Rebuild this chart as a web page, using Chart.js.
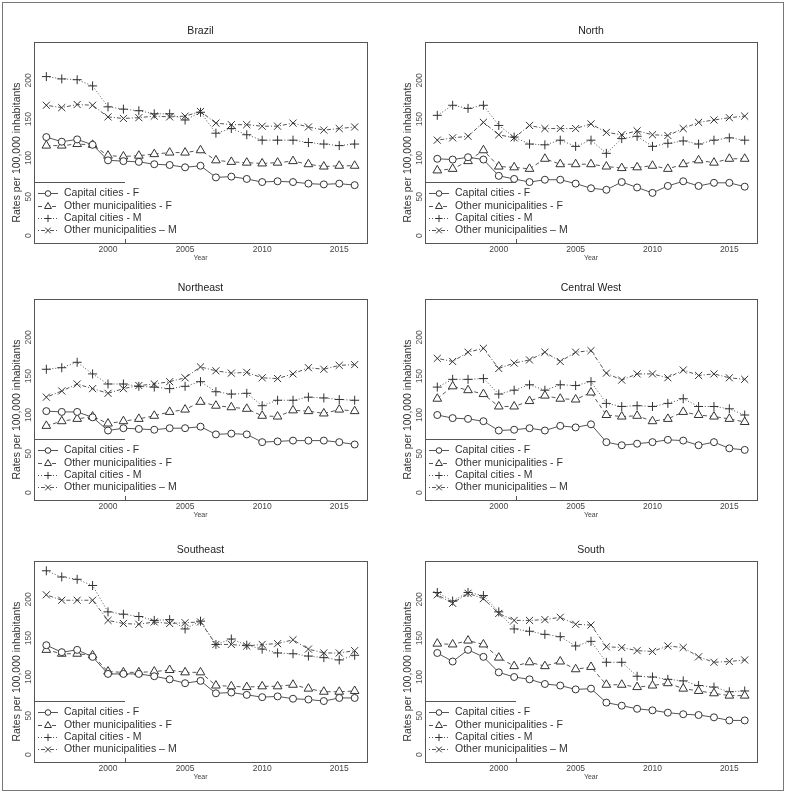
<!DOCTYPE html>
<html>
<head>
<meta charset="utf-8">
<script src="https://cdn.jsdelivr.net/npm/chart.js@4.4.1/dist/chart.umd.min.js"></script>
<style>
  body { margin: 0; background: #fff; width: 786px; height: 794px; position: relative; overflow: hidden; }
  #frame { position: absolute; left: 2px; top: 2px; width: 782px; height: 789px; border: 1px solid #777; box-sizing: border-box; }
  canvas { position: absolute; }
</style>
</head>
<body>
<div id="frame"></div>
<script>
// years on the x axis
const years = [1996, 1997, 1998, 1999, 2000, 2001, 2002, 2003, 2004, 2005, 2006,
  2007, 2008, 2009, 2010, 2011, 2012, 2013, 2014, 2015, 2016];
const xTicks = [2000, 2005, 2010, 2015];
const yTicks = [0, 50, 100, 150, 200];
const seriesNames = ["Capital cities - F", "Other municipalities - F", "Capital cities - M", "Other municipalities \u2013 M"];

// Brazil
const brazilCapF = [127, 121, 124, 117, 97, 96, 95, 92, 91, 88, 90, 75, 76, 73, 69, 70, 69, 67, 66, 67, 65];
const brazilOthF = [116, 116, 118, 117, 103, 102, 103, 105, 107, 107, 110, 97, 95, 94, 93, 94, 96, 92, 89, 90, 90];
const brazilCapM = [205, 202, 201, 193, 166, 163, 161, 157, 157, 149, 159, 132, 138, 130, 123, 123, 123, 120, 118, 116, 118];
const brazilOthM = [168, 165, 169, 168, 153, 151, 152, 154, 153, 154, 160, 145, 143, 143, 141, 141, 145, 140, 136, 138, 140];

// North
const northCapF = [99, 98, 101, 98, 77, 73, 69, 72, 72, 67, 61, 59, 69, 62, 55, 64, 70, 64, 68, 68, 63];
const northOthF = [84, 86, 96, 110, 89, 88, 86, 99, 92, 92, 92, 89, 87, 88, 90, 86, 92, 97, 94, 99, 99];
const northCapM = [155, 168, 164, 168, 142, 127, 118, 117, 123, 115, 123, 106, 125, 128, 115, 119, 122, 118, 123, 126, 123];
const northOthM = [123, 126, 128, 146, 130, 126, 142, 138, 138, 138, 144, 133, 130, 135, 130, 129, 138, 146, 149, 152, 154];

// Northeast
const northeastCapF = [105, 104, 104, 97, 80, 83, 82, 81, 83, 83, 85, 75, 76, 75, 65, 66, 67, 67, 67, 65, 62];
const northeastOthF = [86, 92, 95, 98, 89, 92, 95, 99, 104, 107, 117, 112, 110, 108, 99, 98, 106, 105, 102, 107, 105];
const northeastCapM = [159, 161, 168, 153, 140, 140, 137, 136, 134, 137, 143, 130, 127, 128, 112, 119, 119, 123, 122, 120, 119];
const northeastOthM = [123, 131, 140, 134, 128, 134, 138, 140, 143, 148, 162, 157, 154, 155, 148, 147, 153, 161, 159, 164, 165];

// Central West
const centralCapF = [100, 96, 95, 92, 80, 81, 83, 80, 86, 84, 88, 65, 61, 63, 65, 68, 67, 61, 65, 57, 55];
const centralOthF = [121, 137, 132, 127, 111, 111, 118, 125, 121, 120, 129, 100, 98, 99, 92, 95, 104, 100, 98, 95, 91];
const centralCapM = [136, 146, 146, 147, 127, 132, 139, 132, 139, 138, 143, 115, 111, 112, 111, 115, 121, 111, 111, 108, 100];
const centralOthM = [173, 169, 181, 186, 160, 167, 171, 181, 169, 181, 183, 154, 145, 153, 153, 148, 158, 151, 153, 148, 146];

// Southeast
const southeastCapF = [141, 132, 135, 126, 104, 104, 104, 101, 97, 92, 95, 79, 80, 77, 74, 75, 72, 71, 69, 73, 73];
const southeastOthF = [135, 130, 130, 128, 107, 106, 106, 107, 109, 106, 106, 89, 88, 87, 88, 88, 90, 85, 81, 81, 82];
const southeastCapM = [237, 229, 226, 218, 184, 181, 178, 173, 174, 162, 172, 142, 149, 141, 136, 131, 130, 127, 125, 122, 128];
const southeastOthM = [206, 199, 199, 199, 173, 169, 168, 171, 169, 170, 171, 142, 142, 140, 142, 143, 148, 136, 131, 131, 134];

// South
const southCapF = [131, 120, 135, 126, 106, 100, 97, 91, 89, 84, 85, 67, 63, 59, 57, 54, 52, 51, 48, 44, 44];
const southOthF = [143, 142, 147, 142, 125, 114, 119, 114, 120, 110, 113, 90, 90, 87, 89, 92, 85, 82, 79, 76, 76];
const southCapM = [209, 198, 209, 205, 184, 162, 159, 155, 152, 140, 146, 119, 119, 101, 100, 97, 95, 89, 87, 81, 82];
const southOthM = [206, 195, 208, 201, 182, 173, 173, 174, 177, 168, 167, 139, 138, 134, 133, 140, 138, 126, 119, 120, 122];

const regions = [
  { title: "Brazil", data: [brazilCapF, brazilOthF, brazilCapM, brazilOthM], col: 0, row: 0 },
  { title: "North", data: [northCapF, northOthF, northCapM, northOthM], col: 1, row: 0 },
  { title: "Northeast", data: [northeastCapF, northeastOthF, northeastCapM, northeastOthM], col: 0, row: 1 },
  { title: "Central West", data: [centralCapF, centralOthF, centralCapM, centralOthM], col: 1, row: 1 },
  { title: "Southeast", data: [southeastCapF, southeastOthF, southeastCapM, southeastOthM], col: 0, row: 2 },
  { title: "South", data: [southCapF, southOthF, southCapM, southOthM], col: 1, row: 2 }
];

// R type="b" look: marker, dash pattern, size
const styles = [
  { point: "circle", radius: 3.5, dash: [] },
  { point: "triangle", radius: 5, dash: [4, 3] },
  { point: "cross", radius: 4.5, dash: [1, 2] },
  { point: "crossRot", radius: 5, dash: [1, 2, 4, 2] }
];

const FONT = "'Liberation Sans', Arial, Helvetica, sans-serif";
const lineColor = "#555";
const markColor = "#333";

const canvasW = 393, canvasH = 263;
const colLeft = [0, 391];
const rowTop = [0, 257, 519];
const padRight = [26, 27];

const panelDecor = {
  id: "panelDecor",
  afterDraw(chart, args, opts) {
    const ctx = chart.ctx;
    const a = chart.chartArea;
    const xs = chart.scales.x;
    const ys = chart.scales.y;
    ctx.save();
    // box
    ctx.strokeStyle = "#555";
    ctx.lineWidth = 1;
    ctx.setLineDash([]);
    ctx.strokeRect(Math.round(a.left) + 0.5, Math.round(a.top) + 0.5, Math.round(a.right - a.left), Math.round(a.bottom - a.top));

    // title
    ctx.fillStyle = "#222";
    ctx.font = "10.5px " + FONT;
    ctx.textAlign = "center";
    ctx.textBaseline = "middle";
    ctx.fillText(opts.title, (a.left + a.right) / 2, a.top - 11);

    // x tick labels
    ctx.fillStyle = "#444";
    ctx.font = "8.5px " + FONT;
    xTicks.forEach(v => {
      ctx.fillText(String(v), xs.getPixelForValue(v), a.bottom + 6.5);
    });

    // x axis name
    ctx.font = "7px " + FONT;
    ctx.fillText("Year", (a.left + a.right) / 2, a.bottom + 15);

    // y tick labels, rotated like R
    ctx.fillStyle = "#555";
    ctx.font = "8.5px " + FONT;
    yTicks.forEach(v => {
      const py = ys.getPixelForValue(v);
      ctx.save();
      ctx.translate(a.left - 5, py);
      ctx.rotate(-Math.PI / 2);
      ctx.fillText(String(v), 0, 0);
      ctx.restore();
    });

    // y axis name
    ctx.fillStyle = "#333";
    ctx.font = "10.5px " + FONT;
    ctx.save();
    ctx.translate(a.left - 17, (a.top + a.bottom) / 2 + 10);
    ctx.rotate(-Math.PI / 2);
    ctx.fillText("Rates per 100,000 inhabitants", 0, 0);
    ctx.restore();

    // legend
    const legTop = a.bottom - 61;
    ctx.strokeStyle = "#555";
    ctx.beginPath();
    ctx.moveTo(a.left, Math.round(legTop) + 0.5);
    ctx.lineTo(a.left + 91, Math.round(legTop) + 0.5);
    ctx.moveTo(a.left + 91.5, a.bottom - 4);
    ctx.lineTo(a.left + 91.5, a.bottom);
    ctx.stroke();

    const rows = [a.bottom - 50, a.bottom - 37.5, a.bottom - 25, a.bottom - 13];
    ctx.font = "10.5px " + FONT;
    ctx.textAlign = "left";
    seriesNames.forEach((name, i) => {
      const st = styles[i];
      const y = Math.round(rows[i]) + 0.5;
      ctx.strokeStyle = lineColor;
      ctx.setLineDash(st.dash);
      ctx.beginPath();
      ctx.moveTo(a.left + 4, y);
      ctx.lineTo(a.left + 24, y);
      ctx.stroke();
      ctx.setLineDash([]);
      ctx.strokeStyle = markColor;
      ctx.fillStyle = "#fff";
      Chart.helpers.drawPoint(ctx, { pointStyle: st.point, radius: st.radius * 0.8, rotation: 0, borderWidth: 1 }, a.left + 14, y);
      ctx.fillStyle = "#333";
      ctx.fillText(name, a.left + 30, y);
    });
    ctx.restore();
  }
};

regions.forEach(reg => {
  const cv = document.createElement("canvas");
  cv.width = canvasW;
  cv.height = canvasH;
  cv.style.left = colLeft[reg.col] + "px";
  cv.style.top = rowTop[reg.row] + "px";
  document.body.appendChild(cv);

  const datasets = reg.data.map((vals, i) => ({
    label: seriesNames[i],
    data: years.map((yr, k) => ({ x: yr, y: vals[k] })),
    borderColor: lineColor,
    borderWidth: 1,
    borderDash: styles[i].dash,
    pointStyle: styles[i].point,
    pointRadius: styles[i].radius,
    pointBorderColor: markColor,
    pointBackgroundColor: "#fff",
    pointBorderWidth: 1,
    tension: 0,
    fill: false
  }));

  new Chart(cv, {
    type: "line",
    data: { datasets: datasets },
    options: {
      responsive: false,
      animation: false,
      devicePixelRatio: 1,
      layout: { padding: { left: 0, top: 42, right: padRight[reg.col], bottom: 0 } },
      plugins: {
        legend: { display: false },
        tooltip: { enabled: false },
        panelDecor: { title: reg.title }
      },
      scales: {
        x: {
          type: "linear",
          min: 1995.2,
          max: 2016.8,
          grid: { display: false },
          border: { display: false },
          ticks: { display: false },
          afterBuildTicks: s => { s.ticks = xTicks.map(v => ({ value: v })); },
          afterFit: s => { s.height = 20; }
        },
        y: {
          min: -9.6,
          max: 249.6,
          grid: { display: false },
          border: { display: false },
          ticks: { display: false },
          afterBuildTicks: s => { s.ticks = yTicks.map(v => ({ value: v })); },
          afterFit: s => { s.width = 34; }
        }
      }
    },
    plugins: [panelDecor]
  });
});
</script>
</body>
</html>
